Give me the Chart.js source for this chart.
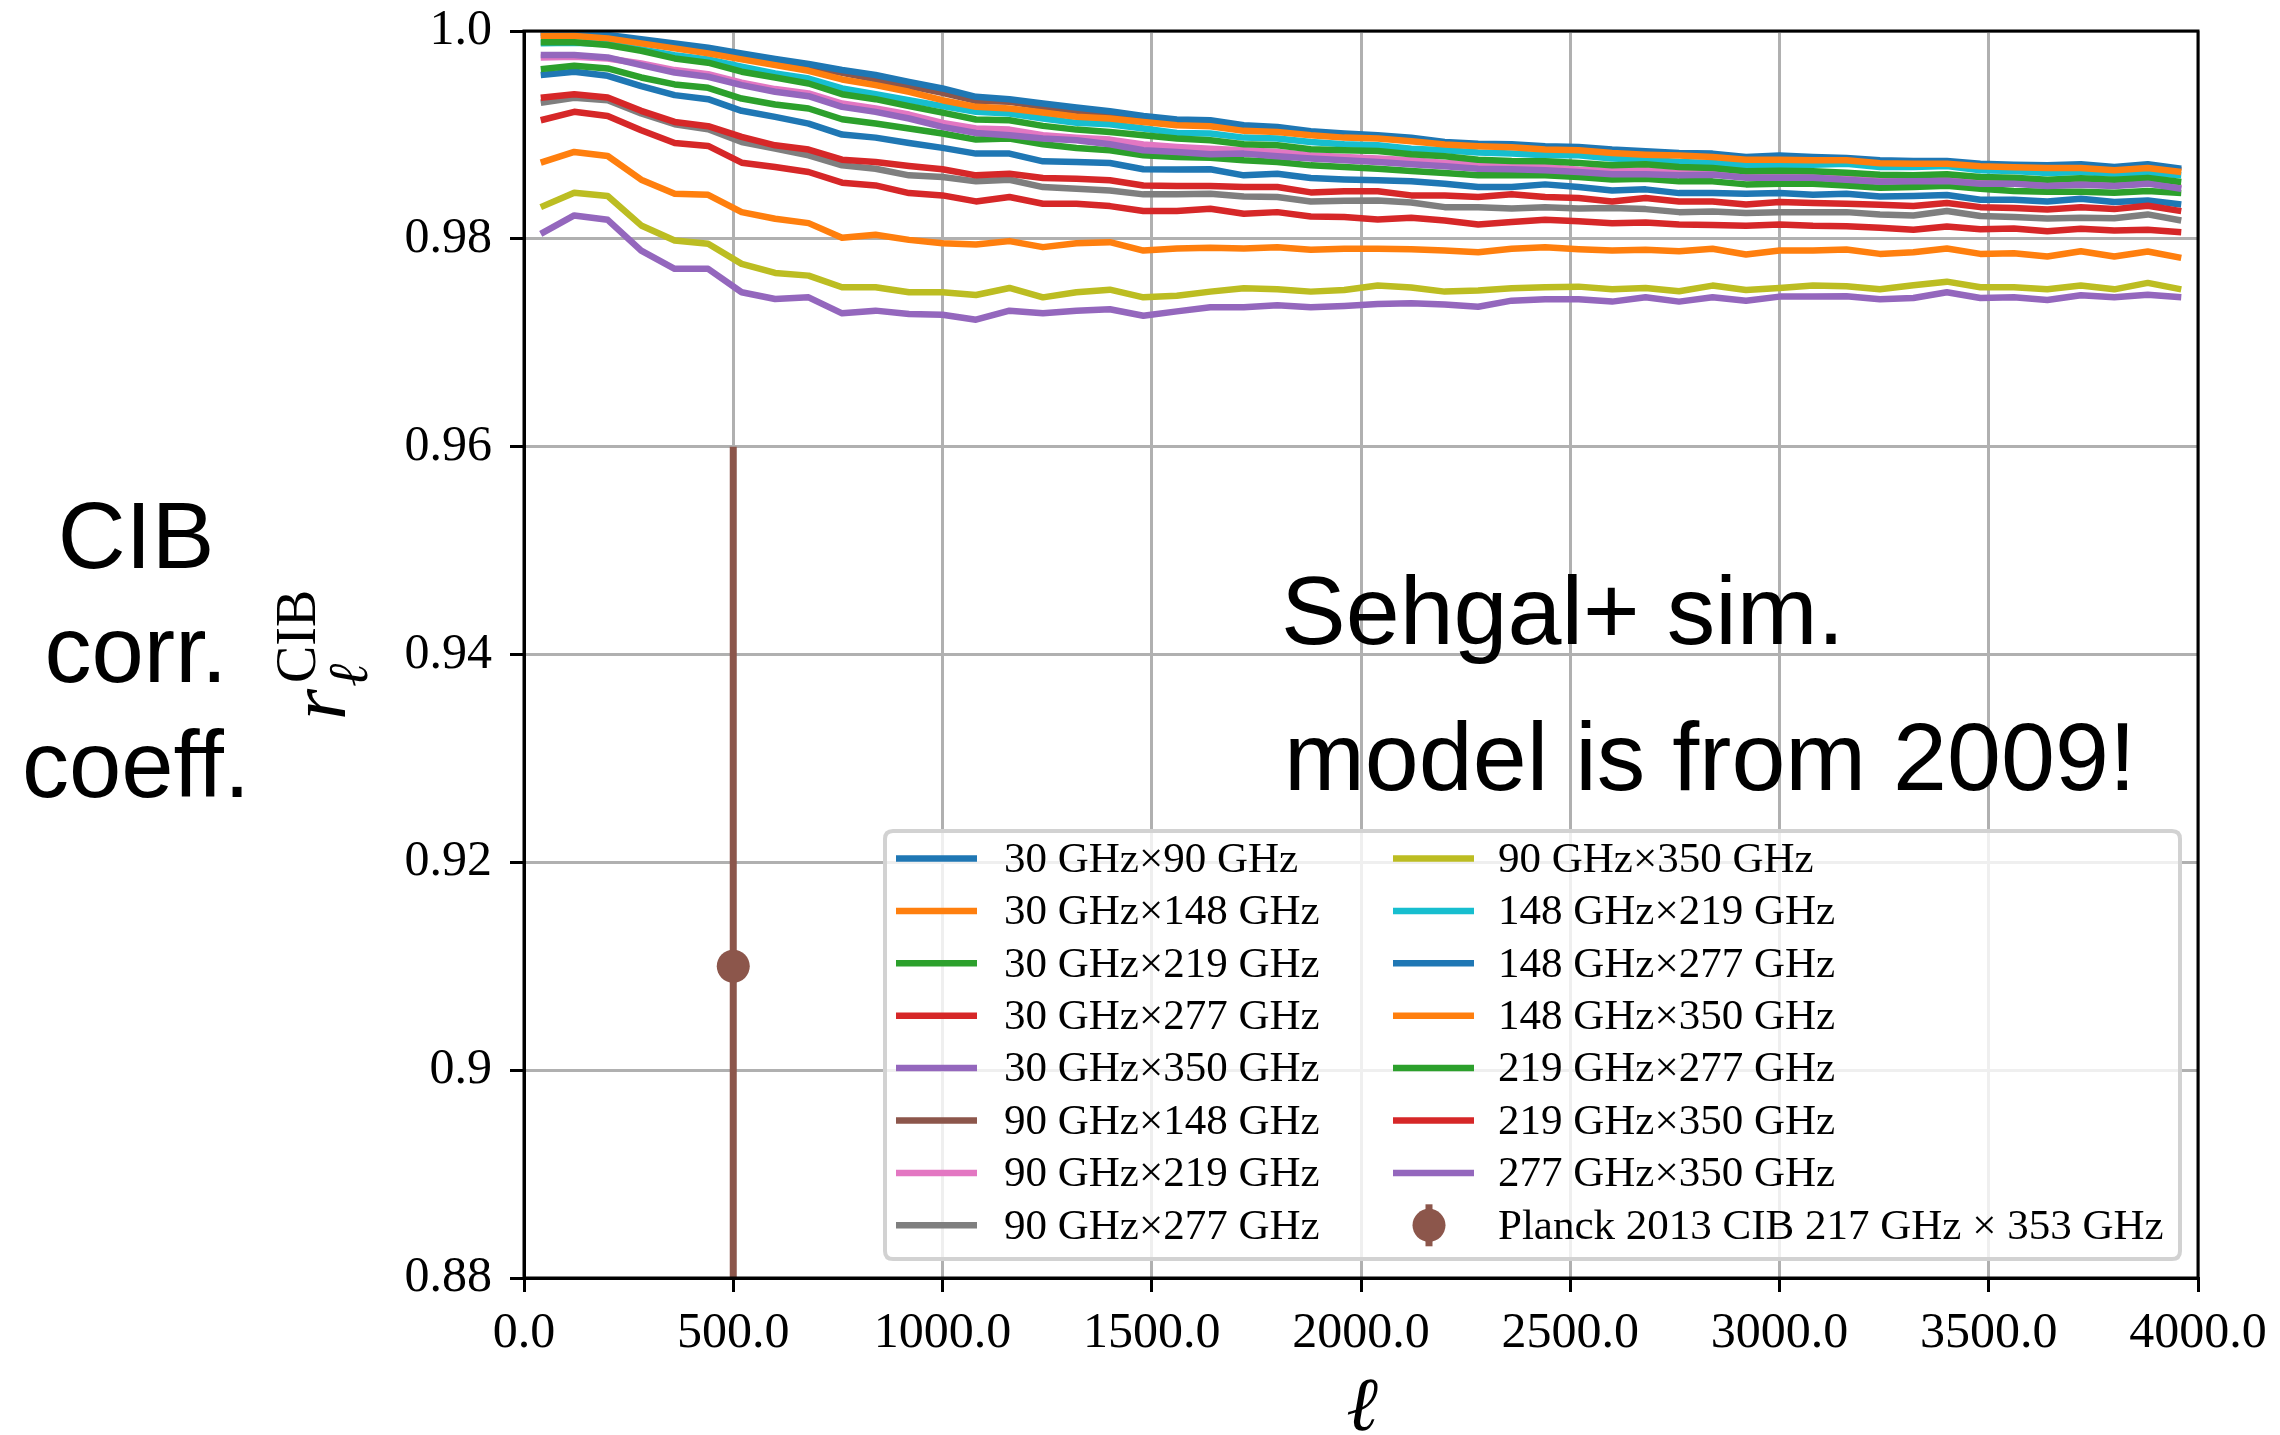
<!DOCTYPE html>
<html>
<head>
<meta charset="utf-8">
<title>CIB correlation coefficient</title>
<script src="https://cdn.jsdelivr.net/npm/chart.js@4.4.0/dist/chart.umd.min.js"></script>
<style>
  html, body { margin: 0; padding: 0; background: #fff; }
  canvas { display: block; }
</style>
</head>
<body>
<canvas id="cib-chart" width="2280" height="1435"></canvas>
<script>
// multipole bin centres
const ell = [40, 120, 200, 280, 360, 440, 520, 600, 680, 760, 840, 920, 1000, 1080, 1160, 1240, 1320, 1400, 1480, 1560,
             1640, 1720, 1800, 1880, 1960, 2040, 2120, 2200, 2280, 2360, 2440, 2520, 2600, 2680, 2760, 2840, 2920, 3000,
             3080, 3160, 3240, 3320, 3400, 3480, 3560, 3640, 3720, 3800, 3880, 3960];

// r_ell^CIB for each frequency pair
const r30x90 = [0.99576, 0.99608, 0.99569, 0.99469, 0.99383, 0.99344, 0.99232, 0.99174, 0.99109, 0.99003, 0.98974, 0.98923, 0.98875,
                0.9882, 0.9882, 0.98746, 0.9874, 0.9873, 0.98669, 0.98666, 0.98669, 0.98611, 0.98627, 0.98585, 0.98572,
                0.98563, 0.98553, 0.98531, 0.98498, 0.98498, 0.98524, 0.98498, 0.98466, 0.98476, 0.9844, 0.9844, 0.98434, 0.9844,
                0.98424, 0.98434, 0.98408, 0.98412, 0.98421, 0.98376, 0.98376, 0.9836, 0.98386, 0.98354, 0.9837, 0.98331];
const r30x148 = [0.98733, 0.98836, 0.98797, 0.98569, 0.98434, 0.98424, 0.98257, 0.98193, 0.98151, 0.9801, 0.98039, 0.9799, 0.97958,
                 0.97945, 0.97978, 0.9792, 0.97958, 0.97968, 0.97887, 0.97907, 0.97913, 0.97907, 0.9792, 0.97894, 0.97904,
                 0.97904, 0.979, 0.97887, 0.97871, 0.97904, 0.9792, 0.979, 0.97887, 0.97894, 0.97881, 0.97904, 0.97849, 0.97887,
                 0.97887, 0.97897, 0.97855, 0.97871, 0.97907, 0.97855, 0.97862, 0.9783, 0.97881, 0.9783, 0.97878, 0.97817];
const r30x219 = [0.99633, 0.99666, 0.9964, 0.99553, 0.99486, 0.99453, 0.9935, 0.99293, 0.99254, 0.99151, 0.99109, 0.99061, 0.99013,
                 0.98955, 0.98965, 0.9891, 0.98875, 0.98852, 0.98804, 0.98788, 0.98781, 0.98756, 0.9874, 0.98707, 0.98691,
                 0.98675, 0.98653, 0.98633, 0.98611, 0.98611, 0.98611, 0.98595, 0.98572, 0.98579, 0.98553, 0.98553, 0.98524, 0.98531,
                 0.98531, 0.98514, 0.98492, 0.98498, 0.98511, 0.98482, 0.9846, 0.98453, 0.98453, 0.98444, 0.9846, 0.9844];
const r30x277 = [0.99141, 0.99222, 0.99183, 0.99045, 0.98923, 0.98894, 0.98733, 0.98691, 0.98643, 0.9854, 0.98514, 0.9844, 0.98418,
                 0.9836, 0.98402, 0.98338, 0.98338, 0.98315, 0.98267, 0.98267, 0.98289, 0.98241, 0.98257, 0.98215, 0.98209,
                 0.98187, 0.98203, 0.98177, 0.98138, 0.98161, 0.98183, 0.9817, 0.98151, 0.98158, 0.98138, 0.98132, 0.98125, 0.98138,
                 0.98125, 0.98122, 0.98106, 0.98087, 0.98119, 0.98093, 0.981, 0.98074, 0.98097, 0.9808, 0.98087, 0.98064];
const r30x350 = [0.98048, 0.98225, 0.98183, 0.97887, 0.97711, 0.97711, 0.97486, 0.97421, 0.97437, 0.97283, 0.97309, 0.97277, 0.9727,
                 0.97222, 0.97309, 0.97283, 0.97309, 0.97322, 0.9726, 0.97302, 0.97341, 0.97341, 0.9736, 0.97341, 0.97354,
                 0.97373, 0.97379, 0.97367, 0.97347, 0.97405, 0.97418, 0.97418, 0.97396, 0.97437, 0.97396, 0.97437, 0.97405, 0.97444,
                 0.97444, 0.97447, 0.97418, 0.97431, 0.97486, 0.97431, 0.97437, 0.97412, 0.97457, 0.97437, 0.97463, 0.97437];
const r90x148 = [0.99961, 0.99961, 0.99939, 0.99897, 0.99855, 0.9981, 0.99759, 0.99704, 0.99656, 0.99598, 0.99534, 0.99469, 0.99405,
                 0.99328, 0.99318, 0.9927, 0.99232, 0.99196, 0.99158, 0.99116, 0.99103, 0.99061, 0.99045, 0.99006, 0.98981,
                 0.98974, 0.98949, 0.98916, 0.989, 0.98891, 0.98868, 0.98862, 0.98836, 0.9882, 0.9881, 0.98797, 0.98772, 0.98772,
                 0.98769, 0.98769, 0.9874, 0.98736, 0.98736, 0.98714, 0.98704, 0.98698, 0.98698, 0.98675, 0.98701, 0.98659];
const r90x219 = [0.99746, 0.99752, 0.99736, 0.99688, 0.99624, 0.99585, 0.99502, 0.99441, 0.99399, 0.99302, 0.99254, 0.99196, 0.99116,
                 0.99061, 0.99051, 0.98997, 0.98974, 0.98955, 0.98907, 0.98884, 0.98868, 0.98852, 0.98836, 0.98804, 0.98788,
                 0.98772, 0.98756, 0.9873, 0.98717, 0.98701, 0.98691, 0.98666, 0.98653, 0.98659, 0.98633, 0.98633, 0.98601, 0.98601,
                 0.98598, 0.98579, 0.9856, 0.98563, 0.98566, 0.9854, 0.9854, 0.98518, 0.98531, 0.98518, 0.9854, 0.98492];
const r90x277 = [0.99309, 0.99357, 0.99334, 0.99206, 0.99103, 0.99055, 0.98932, 0.98868, 0.98804, 0.98707, 0.98675, 0.98611, 0.98595,
                 0.98553, 0.98569, 0.98498, 0.98482, 0.98466, 0.98428, 0.98428, 0.98434, 0.98408, 0.98402, 0.9836, 0.98367,
                 0.9837, 0.9835, 0.98305, 0.98305, 0.98293, 0.98305, 0.98293, 0.98296, 0.98286, 0.98257, 0.98264, 0.98248, 0.98257,
                 0.98257, 0.98257, 0.98235, 0.98225, 0.98267, 0.98219, 0.98209, 0.98196, 0.98203, 0.98199, 0.98235, 0.98177];
const r90x350 = [0.98305, 0.98444, 0.98412, 0.98129, 0.97984, 0.97952, 0.97759, 0.97672, 0.97646, 0.97534, 0.97534, 0.97486, 0.97486,
                 0.9746, 0.97527, 0.97437, 0.97486, 0.97511, 0.97437, 0.97453, 0.97492, 0.97524, 0.97514, 0.97492, 0.97508,
                 0.9755, 0.97531, 0.97492, 0.97502, 0.97524, 0.97534, 0.9754, 0.97514, 0.97527, 0.97495, 0.9755, 0.97508, 0.97527,
                 0.9755, 0.97543, 0.97514, 0.97553, 0.97588, 0.97534, 0.97534, 0.97514, 0.9755, 0.97514, 0.97576, 0.97514];
const r148x219 = [0.99881, 0.99887, 0.99875, 0.99823, 0.99768, 0.99727, 0.99656, 0.99592, 0.99543, 0.99447, 0.99392, 0.99334, 0.99277,
                  0.99222, 0.99206, 0.99158, 0.99116, 0.99103, 0.99061, 0.99019, 0.99013, 0.98974, 0.98965, 0.98932, 0.9891,
                  0.989, 0.98868, 0.98852, 0.9883, 0.9882, 0.98804, 0.98804, 0.98772, 0.98762, 0.9874, 0.9873, 0.98707, 0.98711,
                  0.98714, 0.98723, 0.98691, 0.98691, 0.98701, 0.98659, 0.98653, 0.98633, 0.98643, 0.98627, 0.98633, 0.98611];
const r148x277 = [0.99984, 0.99984, 0.99961, 0.9992, 0.99881, 0.99839, 0.99785, 0.9973, 0.99682, 0.99624, 0.99576, 0.99511, 0.99447,
                  0.99367, 0.99344, 0.99302, 0.99264, 0.99228, 0.99183, 0.99148, 0.99141, 0.99093, 0.99077, 0.99035, 0.99013,
                  0.98997, 0.98974, 0.98932, 0.98916, 0.9891, 0.98891, 0.98884, 0.98859, 0.98842, 0.98826, 0.9882, 0.98788, 0.98801,
                  0.98788, 0.98778, 0.98756, 0.98749, 0.98749, 0.98723, 0.98714, 0.98707, 0.98717, 0.98691, 0.98717, 0.98675];
const r148x350 = [0.99952, 0.99952, 0.99929, 0.99881, 0.99833, 0.99785, 0.99727, 0.99672, 0.99617, 0.99534, 0.99479, 0.99415, 0.99334,
                  0.9927, 0.99254, 0.99215, 0.99174, 0.99158, 0.99125, 0.99093, 0.99084, 0.99039, 0.99029, 0.98997, 0.98974,
                  0.98965, 0.98939, 0.98907, 0.98891, 0.98881, 0.98859, 0.98852, 0.98826, 0.9881, 0.98801, 0.98788, 0.98762, 0.98762,
                  0.98756, 0.98756, 0.98727, 0.98723, 0.98723, 0.98698, 0.98688, 0.98682, 0.98682, 0.98659, 0.98682, 0.98643];
const r219x277 = [0.99891, 0.99891, 0.99865, 0.9981, 0.99736, 0.99695, 0.99608, 0.99553, 0.99495, 0.99392, 0.99344, 0.99277, 0.99215,
                  0.99148, 0.99141, 0.99087, 0.99051, 0.99029, 0.98997, 0.98965, 0.98949, 0.9891, 0.989, 0.98862, 0.98852,
                  0.98846, 0.98814, 0.98794, 0.98762, 0.98749, 0.98746, 0.9873, 0.98707, 0.98717, 0.98691, 0.98682, 0.9865, 0.98656,
                  0.9865, 0.98637, 0.98617, 0.98611, 0.98621, 0.98595, 0.98588, 0.98569, 0.98582, 0.98569, 0.98585, 0.98547];
const r219x350 = [0.99357, 0.99392, 0.9936, 0.99232, 0.99125, 0.99084, 0.98981, 0.989, 0.98859, 0.98762, 0.9874, 0.98701, 0.98669,
                  0.98611, 0.98627, 0.98585, 0.98579, 0.98563, 0.98514, 0.98508, 0.98508, 0.98498, 0.98498, 0.98447, 0.98457,
                  0.98457, 0.98418, 0.98418, 0.98402, 0.98428, 0.98402, 0.98392, 0.9836, 0.98392, 0.9836, 0.9836, 0.98331, 0.98354,
                  0.98344, 0.98338, 0.98328, 0.98315, 0.98344, 0.98305, 0.98296, 0.98283, 0.98305, 0.98286, 0.98318, 0.98267];
const r277x350 = [0.99768, 0.99768, 0.99746, 0.99672, 0.99601, 0.9956, 0.99479, 0.99415, 0.99373, 0.9927, 0.99222, 0.99158, 0.99077,
                  0.99019, 0.98997, 0.98965, 0.98949, 0.9891, 0.98852, 0.98836, 0.98814, 0.9882, 0.98794, 0.98772, 0.98756,
                  0.9874, 0.98717, 0.98698, 0.98675, 0.98669, 0.98659, 0.98643, 0.98621, 0.98621, 0.98611, 0.98617, 0.98588, 0.98588,
                  0.98588, 0.98569, 0.9855, 0.98553, 0.98556, 0.98531, 0.98531, 0.98508, 0.98521, 0.98508, 0.98531, 0.98482];

const seriesLabels = ['30 GHz×90 GHz', '30 GHz×148 GHz', '30 GHz×219 GHz', '30 GHz×277 GHz', '30 GHz×350 GHz',
                      '90 GHz×148 GHz', '90 GHz×219 GHz', '90 GHz×277 GHz', '90 GHz×350 GHz', '148 GHz×219 GHz',
                      '148 GHz×277 GHz', '148 GHz×350 GHz', '219 GHz×277 GHz', '219 GHz×350 GHz', '277 GHz×350 GHz'];
const seriesValues = [r30x90, r30x148, r30x219, r30x277, r30x350, r90x148, r90x219, r90x277, r90x350,
                      r148x219, r148x277, r148x350, r219x277, r219x350, r277x350];
const seriesColors = ['#1f77b4', '#ff7f0e', '#2ca02c', '#d62728', '#9467bd', '#8c564b', '#e377c2', '#7f7f7f', '#bcbd22',
                      '#17becf', '#1f77b4', '#ff7f0e', '#2ca02c', '#d62728', '#9467bd'];

// Planck 2013 measurement
const planckEll = [500];
const planckValue = [0.91];
const planckError = [0.05];
const planckLabel = 'Planck 2013 CIB 217 GHz × 353 GHz';
const planckColor = '#8c564b';

const xTickValues = [0, 500, 1000, 1500, 2000, 2500, 3000, 3500, 4000];
const xTickLabels = ['0.0', '500.0', '1000.0', '1500.0', '2000.0', '2500.0', '3000.0', '3500.0', '4000.0'];
const yTickValues = [0.88, 0.9, 0.92, 0.94, 0.96, 0.98, 1.0];
const yTickLabels = ['0.88', '0.9', '0.92', '0.94', '0.96', '0.98', '1.0'];

const SERIF = '"Liberation Serif", "DejaVu Serif", serif';
const SANS = '"Liberation Sans", Arial, sans-serif';
const LINE_W = 6.5;

// build datasets; later series drawn on top like matplotlib
const datasets = seriesValues.map((vals, i) => ({
    label: seriesLabels[i],
    data: ell.map((l, k) => ({ x: l, y: vals[k] })),
    borderColor: seriesColors[i],
    backgroundColor: seriesColors[i],
    borderWidth: LINE_W,
    borderJoinStyle: 'round',
    pointRadius: 0,
    fill: false,
    tension: 0,
    order: 100 - i
}));

// error bar
datasets.push({
    label: planckLabel + ' (error)',
    data: [
        { x: planckEll[0], y: planckValue[0] + planckError[0] },
        { x: planckEll[0], y: planckValue[0] - planckError[0] }
    ],
    borderColor: planckColor,
    borderWidth: 7,
    pointRadius: 0,
    fill: false,
    order: 2
});
// central point
datasets.push({
    label: planckLabel,
    data: [{ x: planckEll[0], y: planckValue[0] }],
    showLine: false,
    pointRadius: 16.5,
    pointBackgroundColor: planckColor,
    pointBorderColor: planckColor,
    pointBorderWidth: 0,
    order: 1
});

// frame (spines) on top of the lines
const framePlugin = {
    id: 'frame',
    afterDatasetsDraw(chart) {
        const { ctx, chartArea: a } = chart;
        ctx.save();
        ctx.strokeStyle = '#000';
        ctx.lineWidth = 3;
        ctx.strokeRect(a.left, a.top, a.right - a.left, a.bottom - a.top);
        ctx.restore();
    }
};

function roundRectPath(ctx, x, y, w, h, r) {
    ctx.beginPath();
    ctx.moveTo(x + r, y);
    ctx.lineTo(x + w - r, y);
    ctx.quadraticCurveTo(x + w, y, x + w, y + r);
    ctx.lineTo(x + w, y + h - r);
    ctx.quadraticCurveTo(x + w, y + h, x + w - r, y + h);
    ctx.lineTo(x + r, y + h);
    ctx.quadraticCurveTo(x, y + h, x, y + h - r);
    ctx.lineTo(x, y + r);
    ctx.quadraticCurveTo(x, y, x + r, y);
    ctx.closePath();
}

// two-column legend like matplotlib's
const legendPlugin = {
    id: 'twoColLegend',
    afterDraw(chart) {
        const ctx = chart.ctx;
        const box = { x: 885, y: 831, w: 1295, h: 428 };
        const rowY0 = 858.5, rowStep = 52.4;
        const cols = [{ handle: 896, text: 1004 }, { handle: 1393, text: 1498 }];

        ctx.save();
        roundRectPath(ctx, box.x, box.y, box.w, box.h, 8);
        ctx.fillStyle = 'rgba(255,255,255,0.8)';
        ctx.fill();
        ctx.strokeStyle = '#d2d2d2';
        ctx.lineWidth = 4;
        ctx.stroke();

        ctx.font = '43px ' + SERIF;
        ctx.textBaseline = 'middle';
        ctx.textAlign = 'left';

        const entries = seriesLabels.map((s, i) => ({ label: s, color: seriesColors[i] }));
        entries.push({ label: planckLabel, color: planckColor, errorbar: true });

        entries.forEach((e, i) => {
            const col = cols[Math.floor(i / 8)];
            const y = rowY0 + (i % 8) * rowStep;
            if (e.errorbar) {
                const cx = col.handle + 36;
                ctx.strokeStyle = e.color;
                ctx.lineWidth = 7;
                ctx.beginPath();
                ctx.moveTo(cx, y - 21);
                ctx.lineTo(cx, y + 21);
                ctx.stroke();
                ctx.fillStyle = e.color;
                ctx.beginPath();
                ctx.arc(cx, y, 16.5, 0, Math.PI * 2);
                ctx.fill();
            } else {
                ctx.strokeStyle = e.color;
                ctx.lineWidth = LINE_W;
                ctx.beginPath();
                ctx.moveTo(col.handle, y);
                ctx.lineTo(col.handle + 81, y);
                ctx.stroke();
            }
            ctx.fillStyle = '#000';
            ctx.fillText(e.label, col.text, y + 2);
        });
        ctx.restore();
    }
};

// axis labels and slide annotations
const textPlugin = {
    id: 'annotations',
    afterDraw(chart) {
        const ctx = chart.ctx;
        ctx.save();
        ctx.fillStyle = '#000';

        // y label: r_ell^CIB rotated
        ctx.save();
        ctx.translate(345, 720);
        ctx.rotate(-Math.PI / 2);
        ctx.textAlign = 'left';
        ctx.textBaseline = 'alphabetic';
        ctx.font = 'italic 80px ' + SERIF;
        ctx.fillText('r', 0, 0);
        ctx.font = 'italic 56px ' + SERIF;
        ctx.fillText('ℓ', 33, 22);
        ctx.font = '56px ' + SERIF;
        ctx.fillText('CIB', 37, -30);
        ctx.restore();

        // x label
        ctx.textAlign = 'center';
        ctx.textBaseline = 'alphabetic';
        ctx.font = 'italic 76px ' + SERIF;
        ctx.fillText('ℓ', 1362, 1430);

        // left annotation
        ctx.font = '94px ' + SANS;
        ctx.fillText('CIB', 136, 568);
        ctx.fillText('corr.', 136, 682);
        ctx.fillText('coeff.', 136, 797);

        // in-plot annotation
        ctx.textAlign = 'left';
        ctx.font = '97px ' + SANS;
        ctx.fillText('Sehgal+ sim.', 1281, 644);
        ctx.fillText('model is from 2009!', 1284, 790);
        ctx.restore();
    }
};

const ctx = document.getElementById('cib-chart').getContext('2d');
const chart = new Chart(ctx, {
    type: 'line',
    data: { datasets: datasets },
    options: {
        responsive: false,
        animation: false,
        devicePixelRatio: 1,
        layout: { padding: { top: 31, right: 82, left: 0, bottom: 0 } },
        scales: {
            x: {
                type: 'linear',
                min: 0,
                max: 4000,
                afterFit: (scale) => {
                    scale.height = 157;
                    scale.paddingLeft = 0;
                    scale.paddingRight = 0;
                },
                afterBuildTicks: (scale) => { scale.ticks = xTickValues.map(v => ({ value: v })); },
                ticks: {
                    callback: (value, index) => xTickLabels[index],
                    font: { family: SERIF, size: 50 },
                    color: '#000',
                    padding: 12,
                    maxRotation: 0,
                    autoSkip: false
                },
                grid: { color: '#b0b0b0', lineWidth: 3, tickColor: '#000', tickLength: 14, tickWidth: 3 },
                border: { display: true, color: '#000', width: 3 }
            },
            y: {
                type: 'linear',
                min: 0.88,
                max: 1.0,
                afterFit: (scale) => {
                    scale.width = 524;
                    scale.paddingTop = 0;
                    scale.paddingBottom = 0;
                },
                afterBuildTicks: (scale) => { scale.ticks = yTickValues.map(v => ({ value: v })); },
                ticks: {
                    callback: (value, index) => yTickLabels[index],
                    font: { family: SERIF, size: 50 },
                    color: '#000',
                    padding: 18,
                    autoSkip: false
                },
                grid: { color: '#b0b0b0', lineWidth: 3, tickColor: '#000', tickLength: 14, tickWidth: 3 },
                border: { display: true, color: '#000', width: 3 }
            }
        },
        plugins: {
            legend: { display: false },
            tooltip: { enabled: false }
        }
    },
    plugins: [framePlugin, legendPlugin, textPlugin]
});
</script>
</body>
</html>
